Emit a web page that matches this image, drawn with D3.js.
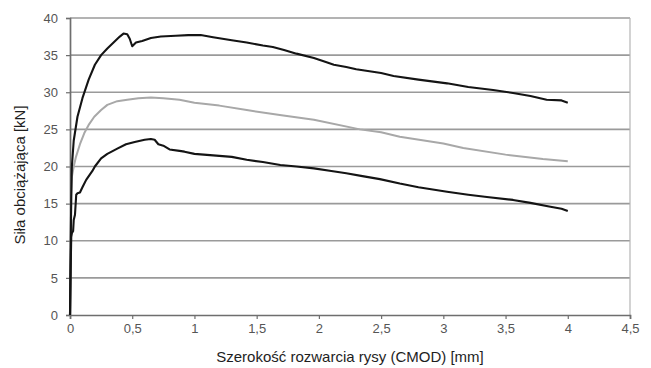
<!DOCTYPE html>
<html>
<head>
<meta charset="utf-8">
<script src="https://cdn.jsdelivr.net/npm/d3@7"></script>
<style>
  body { margin: 0; background: #fff; }
  text { font-family: "Liberation Sans", Arial, sans-serif; }
</style>
</head>
<body>
<script>
// CMOD [mm] vs load [kN]
var upperCurve = [[0,0],[0.005,8],[0.01,16],[0.015,20],[0.03,23.5],[0.06,26.7],[0.1,29.2],[0.15,31.7],[0.2,33.7],[0.25,35],[0.3,35.9],[0.35,36.7],[0.4,37.5],[0.43,37.9],[0.46,37.8],[0.48,37.2],[0.5,36.2],[0.53,36.7],[0.58,36.9],[0.65,37.3],[0.73,37.5],[0.85,37.6],[0.95,37.7],[1.05,37.7],[1.15,37.4],[1.3,37.0],[1.42,36.7],[1.55,36.3],[1.63,36.1],[1.72,35.7],[1.82,35.2],[1.96,34.6],[2.05,34.1],[2.12,33.7],[2.22,33.4],[2.3,33.1],[2.5,32.6],[2.6,32.2],[2.8,31.7],[3.03,31.2],[3.2,30.7],[3.4,30.3],[3.56,29.9],[3.7,29.5],[3.83,29.0],[3.95,28.9],[4.0,28.6]];
var meanCurve = [[0,0],[0.005,10],[0.01,16],[0.015,18.6],[0.03,20],[0.048,21.3],[0.08,23],[0.115,24.5],[0.15,25.6],[0.195,26.7],[0.25,27.6],[0.3,28.3],[0.38,28.8],[0.46,29.0],[0.55,29.2],[0.65,29.3],[0.75,29.2],[0.88,29.0],[1.0,28.6],[1.2,28.2],[1.42,27.6],[1.7,26.9],[1.96,26.3],[2.33,25.0],[2.5,24.6],[2.65,24.0],[3.0,23.1],[3.16,22.5],[3.5,21.6],[3.8,21.0],[4.0,20.7]];
var lowerCurve = [[0,0],[0.005,6],[0.01,10.5],[0.015,11],[0.025,11.3],[0.03,12.8],[0.04,13.5],[0.05,16.2],[0.06,16.4],[0.08,16.5],[0.1,17.2],[0.13,18.2],[0.18,19.4],[0.2,20],[0.25,21.1],[0.3,21.7],[0.38,22.4],[0.45,23],[0.52,23.3],[0.6,23.6],[0.65,23.7],[0.68,23.6],[0.71,23.0],[0.75,22.8],[0.8,22.3],[0.88,22.1],[0.92,22.0],[1.0,21.7],[1.15,21.5],[1.3,21.3],[1.42,20.9],[1.55,20.6],[1.69,20.2],[1.82,20.0],[1.96,19.75],[2.1,19.4],[2.22,19.1],[2.35,18.7],[2.49,18.3],[2.65,17.7],[2.8,17.2],[3.03,16.6],[3.2,16.2],[3.35,15.9],[3.56,15.5],[3.7,15.1],[3.85,14.6],[3.95,14.3],[4.0,14.0]];

var xTicks = [0, 0.5, 1, 1.5, 2, 2.5, 3, 3.5, 4, 4.5];
var yTicks = [0, 5, 10, 15, 20, 25, 30, 35, 40];
var xTitle = "Szerokość rozwarcia rysy (CMOD) [mm]";
var yTitle = "Siła obciążająca [kN]";

var width = 651;
var height = 368;
var margin = { top: 18, right: 21, bottom: 53, left: 70 };
var w = width - margin.left - margin.right;
var h = height - margin.top - margin.bottom;

var svg = d3.select("body")
    .append("svg")
    .attr("width", width)
    .attr("height", height);

var g = svg.append("g")
    .attr("transform", "translate(" + margin.left + "," + margin.top + ")");

var x = d3.scaleLinear().domain([0, 4.5]).range([0, w]);
var y = d3.scaleLinear().domain([0, 40]).range([h, 0]);

// polish decimal comma
var fmt = function(d) { return String(d).replace(".", ","); };

// horizontal gridlines
g.selectAll(".grid")
    .data(yTicks.slice(1))
    .enter()
    .append("line")
    .attr("x1", 0)
    .attr("x2", w)
    .attr("y1", function(d) { return y(d); })
    .attr("y2", function(d) { return y(d); })
    .attr("stroke", "#9a9a9a")
    .attr("stroke-width", 1.7);

// right border of the plot area
g.append("line")
    .attr("x1", w).attr("x2", w)
    .attr("y1", 0).attr("y2", h)
    .attr("stroke", "#b5b5b5")
    .attr("stroke-width", 1.2);

// axes
var xAxis = g.append("g")
    .attr("transform", "translate(0," + h + ")")
    .call(d3.axisBottom(x).tickValues(xTicks).tickFormat(fmt).tickSize(4).tickPadding(5));

var yAxis = g.append("g")
    .call(d3.axisLeft(y).tickValues(yTicks).tickFormat(fmt).tickSize(4).tickPadding(8));

[xAxis, yAxis].forEach(function(a) {
    a.select(".domain").attr("stroke", "#6e6e6e").attr("stroke-width", 1.7);
    a.selectAll(".tick line").attr("stroke", "#6e6e6e").attr("stroke-width", 1.2);
    a.selectAll(".tick text")
        .attr("fill", "#555")
        .style("font-size", "13px")
        .style("font-family", "'Liberation Sans', Arial, sans-serif");
});

var line = d3.line()
    .x(function(d) { return x(d[0]); })
    .y(function(d) { return y(d[1]); });

// gray mean first, black curves on top
g.append("path")
    .datum(meanCurve)
    .attr("d", line)
    .attr("fill", "none")
    .attr("stroke", "#a8a8a8")
    .attr("stroke-width", 2)
    .attr("stroke-linejoin", "round");

[upperCurve, lowerCurve].forEach(function(c) {
    g.append("path")
        .datum(c)
        .attr("d", line)
        .attr("fill", "none")
        .attr("stroke", "#141414")
        .attr("stroke-width", 2.1)
        .attr("stroke-linejoin", "round");
});

// axis titles
svg.append("text")
    .attr("x", margin.left + w / 2)
    .attr("y", 362)
    .attr("text-anchor", "middle")
    .attr("fill", "#1e1e1e")
    .style("font-size", "15px")
    .text(xTitle);

svg.append("text")
    .attr("transform", "translate(25," + 175 + ") rotate(-90)")
    .attr("text-anchor", "middle")
    .attr("fill", "#1e1e1e")
    .style("font-size", "15px")
    .text(yTitle);
</script>
</body>
</html>
